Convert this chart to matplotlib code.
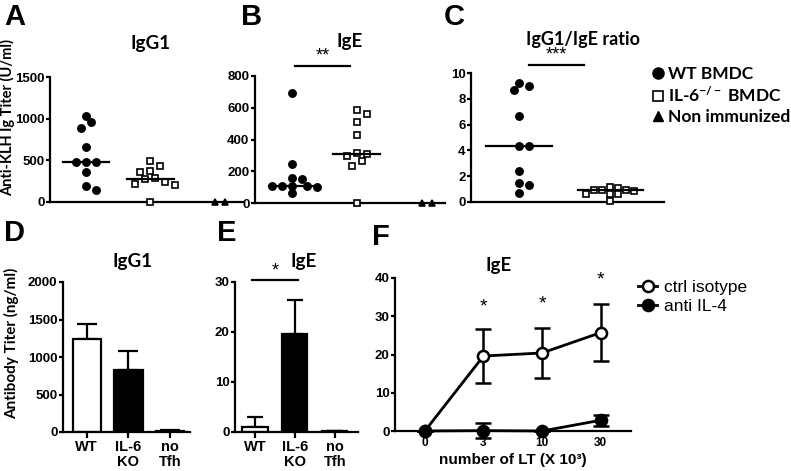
import numpy as np
import matplotlib
matplotlib.use('Agg')
import matplotlib.pyplot as plt
from matplotlib.lines import Line2D

plt.rcParams['mathtext.fontset'] = 'custom'
plt.rcParams['mathtext.rm'] = 'Lato:bold'
plt.rcParams['mathtext.it'] = 'Lato:bold'
plt.rcParams['mathtext.bf'] = 'Lato:bold'

# ---------------- data ----------------
top_groups = ['WT BMDC', 'IL-6$^{-/-}$ BMDC', 'Non immunized']
a_wt = [1035, 955, 890, 660, 477, 477, 477, 358, 195, 147]
a_ko = [495, 435, 367, 355, 288, 276, 240, 216, 208, 0]
a_ni = [0, 0]
b_wt = [690, 246, 159, 149, 110, 107, 107, 104, 102, 61]
b_ko = [584, 563, 508, 430, 314, 308, 297, 264, 232, 0]
b_ni = [0, 0]
c_wt = [9.26, 8.97, 8.72, 6.66, 4.37, 4.37, 2.42, 1.51, 1.31, 0.69]
c_ko = [1.13, 1.08, 0.95, 0.95, 0.95, 0.87, 0.61, 0.61, 0.61, 0.05]

bar_labels = ['WT', 'IL-6\nKO', 'no\nTfh']
d_mean = [1240, 830, 15]
d_err = [195, 250, 10]
e_mean = [1.0, 19.7, 0.2]
e_err = [2.1, 6.8, 0.1]

f_labels = ['0', '3', '10', '30']
f_ctrl = [0, 19.6, 20.4, 25.7]
f_ctrl_err = [0, 7.0, 6.6, 7.5]
f_anti = [0, 0.1, 0.0, 2.8]
f_anti_err = [0, 2.0, 0.0, 1.5]
f_series = ['ctrl isotype', 'anti IL-4']

# ---------------- layout helpers ----------------
W, H = 791, 471
fig = plt.figure(figsize=(W / 100, H / 100), dpi=100)

def add_ax(l, t, r, b):
    return fig.add_axes([l / W, 1 - b / H, (r - l) / W, (b - t) / H])

def fx(x):
    return x / W

def fy(y):
    return 1 - y / H

TICKFONT = dict(family='Liberation Sans', weight='bold')
TITLEFONT = dict(family='Lato', weight='bold')

def style(ax, xlim, ylim, yticks, xticks=False):
    ax.set_xlim(*xlim)
    ax.set_ylim(*ylim)
    for s in ['top', 'right']:
        ax.spines[s].set_visible(False)
    for s in ['left', 'bottom']:
        ax.spines[s].set_linewidth(1.6)
    ax.set_yticks(yticks)
    ax.tick_params(axis='y', length=3, width=1.6, pad=1)
    for lab in ax.get_yticklabels():
        lab.set_fontproperties(matplotlib.font_manager.FontProperties(
            family='Liberation Sans', weight='bold', size=9.5))
    if not xticks:
        ax.set_xticks([])

def swarm(center, values, rect, xlim, ylim, mind=8.0, step=5.0):
    l, t, r, b = rect
    ppx = (r - l) / (xlim[1] - xlim[0])
    ppy = (b - t) / (ylim[1] - ylim[0])
    vals = np.asarray(values, float)
    order = np.argsort(-vals)
    placed = []
    xs = np.zeros(len(vals))
    cands = [0.0]
    for k in range(1, 12):
        cands += [k * step, -k * step]
    for i in order:
        yp = vals[i] * ppy
        for c in cands:
            if all(np.hypot(c - px, yp - py) >= mind for px, py in placed):
                break
        placed.append((c, yp))
        xs[i] = center + c / ppx
    return xs

def panel_letter(x, y, s):
    fig.text(fx(x), fy(y), s, family='Liberation Sans', weight='bold',
             fontsize=21, ha='left', va='center')

def title(x, y, s, size=13.5):
    fig.text(fx(x), fy(y), s, ha='center', va='center', fontsize=size, **TITLEFONT)

MSTYLE = {'o': dict(ms=5.2, mfc='black'), 's': dict(ms=5.0, mfc='white'), '^': dict(ms=5.0, mfc='black')}

def scatter_group(ax, i, vals, mk, rect, xlim, ylim, mind=8, step=5, median=True):
    xs = swarm(i, vals, rect, xlim, ylim, mind=mind, step=step)
    ax.plot(xs, vals, ls='none', marker=mk, mec='black', mew=1.2, clip_on=False, zorder=3,
            **MSTYLE[mk])
    if median:
        m = np.median(vals)
        ax.plot([i - 0.36, i + 0.36], [m, m], color='black', lw=1.6, zorder=4, clip_on=False)

# ---------------- Panel A ----------------
rectA = (50, 77, 243, 202)
xlA = (-0.56, 2.44); ylA = (0, 1500)
axA = add_ax(*rectA)
style(axA, xlA, ylA, [0, 500, 1000, 1500])
scatter_group(axA, 0, a_wt, 'o', rectA, xlA, ylA)
scatter_group(axA, 1, a_ko, 's', rectA, xlA, ylA)
scatter_group(axA, 2, a_ni, '^', rectA, xlA, ylA, mind=9, median=False)

# ---------------- Panel B ----------------
rectB = (255, 76, 445, 203)
xlB = (-0.57, 2.36); ylB = (0, 800)
axB = add_ax(*rectB)
style(axB, xlB, ylB, [0, 200, 400, 600, 800])
scatter_group(axB, 0, b_wt, 'o', rectB, xlB, ylB, mind=7.5)
scatter_group(axB, 1, b_ko, 's', rectB, xlB, ylB)
scatter_group(axB, 2, b_ni, '^', rectB, xlB, ylB, mind=9, median=False)
axB.plot([0.05, 0.9], [860, 860], color='black', lw=1.6, clip_on=False)
axB.text(0.47, 875, '**', ha='center', va='bottom', fontsize=13, family='Liberation Sans')

# ---------------- Panel C ----------------
rectC = (471, 73, 664, 202)
xlC = (-0.53, 1.59); ylC = (0, 10)
axC = add_ax(*rectC)
style(axC, xlC, ylC, [0, 2, 4, 6, 8, 10])
scatter_group(axC, 0, c_wt, 'o', rectC, xlC, ylC)
scatter_group(axC, 1, c_ko, 's', rectC, xlC, ylC, mind=6, step=4)
axC.plot([0.11, 0.71], [10.65, 10.65], color='black', lw=1.6, clip_on=False)
axC.text(0.41, 10.75, '***', ha='center', va='bottom', fontsize=13, family='Liberation Sans')

# top legend
leg_handles = [Line2D([], [], ls='none', marker='o', ms=8, mfc='black', mec='black'),
               Line2D([], [], ls='none', marker='s', ms=7.5, mfc='white', mec='black', mew=1.2),
               Line2D([], [], ls='none', marker='^', ms=7.5, mfc='black', mec='black')]
fig.legend(leg_handles, top_groups, loc='upper left', bbox_to_anchor=(fx(649), fy(66)),
           frameon=False, handletextpad=0.1, handlelength=1.0, labelspacing=0.22,
           borderaxespad=0, borderpad=0, prop=dict(family='Lato', weight='bold', size=12.5))

# ---------------- Panel D ----------------
rectD = (63, 282, 190, 432)
xlD = (-0.57, 2.48); ylD = (0, 2000)
axD = add_ax(*rectD)
style(axD, xlD, ylD, [0, 500, 1000, 1500, 2000], xticks=True)
xD = np.arange(len(d_mean))
axD.bar(xD, d_mean, width=0.68, color=['white', 'black', 'black'], edgecolor='black', lw=1.6, zorder=2)
axD.errorbar(xD, d_mean, yerr=[np.zeros(3), d_err], fmt='none', ecolor='black', elinewidth=1.6,
             capsize=7, capthick=1.6, zorder=1)
axD.set_xticks(xD)
axD.set_xticklabels(bar_labels, fontsize=10.5, linespacing=1.05, **TICKFONT)
axD.tick_params(axis='x', length=4, width=1.6, pad=2)

# ---------------- Panel E ----------------
rectE = (235, 282, 358, 432)
xlE = (-0.5, 2.58); ylE = (0, 30)
axE = add_ax(*rectE)
style(axE, xlE, ylE, [0, 10, 20, 30], xticks=True)
xE = np.arange(len(e_mean))
axE.bar(xE, e_mean, width=0.63, color=['white', 'black', 'black'], edgecolor='black', lw=1.6, zorder=2)
axE.errorbar(xE, e_mean, yerr=[np.zeros(3), e_err], fmt='none', ecolor='black', elinewidth=1.6,
             capsize=5.5, capthick=1.6, zorder=1)
axE.set_xticks(xE)
axE.set_xticklabels(bar_labels, fontsize=10.5, linespacing=1.05, **TICKFONT)
axE.tick_params(axis='x', length=4, width=1.6, pad=2)
axE.plot([-0.075, 1.075], [30.4, 30.4], color='black', lw=1.6, clip_on=False)
axE.text(0.5, 30.6, '*', ha='center', va='bottom', fontsize=13, family='Liberation Sans')

# ---------------- Panel F ----------------
rectF = (395, 278, 631, 431)
xlF = (-0.51, 3.52); ylF = (0, 40)
axF = add_ax(*rectF)
style(axF, xlF, ylF, [0, 10, 20, 30, 40], xticks=True)
xF = np.arange(len(f_labels))
axF.errorbar(xF, f_ctrl, yerr=f_ctrl_err, color='black', lw=2, marker='o', ms=8, mfc='white',
             mec='black', mew=1.8, capsize=6, capthick=1.8, elinewidth=1.8, clip_on=False, zorder=3,
             label=f_series[0])
axF.errorbar(xF, f_anti, yerr=f_anti_err, color='black', lw=2, marker='o', ms=8, mfc='black',
             mec='black', mew=1.8, capsize=6, capthick=1.8, elinewidth=1.8, clip_on=False, zorder=4,
             label=f_series[1])
axF.set_xticks(xF)
axF.set_xticklabels(f_labels, fontsize=8.5, **TICKFONT)
axF.tick_params(axis='x', length=0, pad=4)
for xi, yi in zip(xF[1:], [32.4, 33.2, 39.4]):
    axF.text(xi, yi, '*', ha='center', va='center', fontsize=14, family='Liberation Sans')
axF.text(0.5, -0.19, 'number of LT (X 10\u00b3)', transform=axF.transAxes, ha='center', va='center',
         fontsize=11, family='Liberation Sans', weight='bold')
fhandles = [Line2D([], [], color='black', lw=2, marker='o', ms=8, mfc='white', mec='black', mew=1.8),
            Line2D([], [], color='black', lw=2, marker='o', ms=8, mfc='black', mec='black', mew=1.8)]
fig.legend(fhandles, f_series, loc='upper left', bbox_to_anchor=(fx(638), fy(280)),
           frameon=False, handletextpad=0.4, handlelength=1.1, labelspacing=0.2,
           borderaxespad=0, borderpad=0, prop=dict(family='Liberation Sans', size=12.5))

# ---------------- titles, letters, labels ----------------
title(150, 43, 'IgG1')
title(350, 42, 'IgE')
title(583, 39, 'IgG1/IgE ratio', size=13)
title(133, 262, 'IgG1')
title(304, 262, 'IgE')
title(499, 265, 'IgE')

panel_letter(4, 17, 'A')
panel_letter(241, 17, 'B')
panel_letter(444, 17, 'C')
panel_letter(4, 233, 'D')
panel_letter(217, 233, 'E')
panel_letter(372, 237, 'F')

fig.text(fx(8), fy(118), 'Anti-KLH Ig Titer (U/ml)', rotation=90, ha='center', va='center',
         fontsize=10.5, **TITLEFONT)
fig.text(fx(12), fy(343), 'Antibody Titer (ng/ml)', rotation=90, ha='center', va='center',
         fontsize=11, **TITLEFONT)

fig.savefig('out.png', dpi=100)
